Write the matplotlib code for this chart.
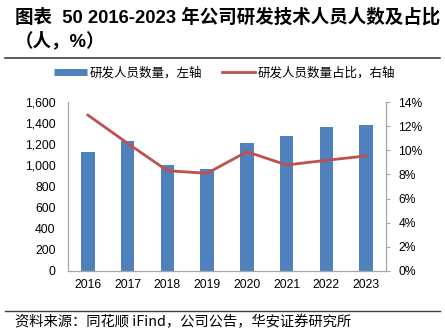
import matplotlib
matplotlib.use("Agg")
import matplotlib.pyplot as plt
from matplotlib.lines import Line2D
from matplotlib.ticker import FuncFormatter, MultipleLocator

plt.rcParams['font.family'] = ['Liberation Sans', 'Noto Sans CJK SC', 'DejaVu Sans']

years = ['2016', '2017', '2018', '2019', '2020', '2021', '2022', '2023']
staff = [1125, 1229, 1004, 966, 1210, 1283, 1368, 1381]
share = [12.94, 10.59, 8.31, 8.10, 9.89, 8.79, 9.18, 9.54]

title_l1 = '图表  50 2016-2023 年公司研发技术人员人数及占比'
title_l2 = '（人，%）'
legend_labels = ['研发人员数量，左轴', '研发人员数量占比，右轴']
source = '资料来源：同花顺 iFind，公司公告，华安证券研究所'

BLUE = '#4F81BD'
RED = '#C0504D'
GRAY = '#A6A6A6'
cjk = ['Noto Sans CJK SC', 'Liberation Sans', 'DejaVu Sans']
latin_first = ['Liberation Sans', 'Noto Sans CJK SC', 'DejaVu Sans']

W, H = 445, 333
fig = plt.figure(figsize=(W / 100, H / 100), dpi=100)

ax = fig.add_axes([68 / W, 1 - 270.7 / H, 318 / W, 168.4 / H])
x = list(range(len(years)))
ax.bar(x, staff, width=0.34, color=BLUE, zorder=2)
ax.set_xlim(-0.5, len(years) - 0.5)
ax.set_ylim(0, 1600)
ax.yaxis.set_major_locator(MultipleLocator(200))
ax.yaxis.set_major_formatter(FuncFormatter(lambda v, p: f'{int(v):,}'))
ax.set_xticks(x)
ax.set_xticklabels(years)
for s in ['top', 'right']:
    ax.spines[s].set_visible(False)
for s in ['left', 'bottom']:
    ax.spines[s].set_color(GRAY)
    ax.spines[s].set_linewidth(0.9)
ax.tick_params(axis='y', length=0, pad=9, labelsize=8.7)
ax.tick_params(axis='x', length=0, pad=6, labelsize=8.7)

ax2 = ax.twinx()
ax2.plot(x, share, color=RED, lw=2, zorder=3)
ax2.set_ylim(0, 14)
ax2.yaxis.set_major_locator(MultipleLocator(2))
ax2.yaxis.set_major_formatter(FuncFormatter(lambda v, p: f'{int(v)}%'))
for s in ['top', 'left', 'bottom']:
    ax2.spines[s].set_visible(False)
ax2.spines['right'].set_color(GRAY)
ax2.spines['right'].set_linewidth(0.9)
ax2.tick_params(axis='y', length=3, color=GRAY, pad=6, labelsize=8.7)

handles = [Line2D([], [], color=BLUE, lw=5, solid_capstyle='butt'),
           Line2D([], [], color=RED, lw=2)]
fig.legend(handles, legend_labels, loc='center', bbox_to_anchor=(0.505, 1 - 73 / H),
           ncol=2, frameon=False, handlelength=2.6, handletextpad=0.25,
           columnspacing=1.6, prop={'family': cjk, 'size': 9})

fig.text(15 / W, 1 - 17 / H, title_l1, ha='left', va='center', fontsize=13.3,
         fontweight='bold', family=latin_first)
fig.text(15 / W, 1 - 41 / H, title_l2, ha='left', va='center', fontsize=13.3,
         fontweight='bold', family=latin_first)
fig.add_artist(Line2D([5 / W, 440 / W], [1 - 58 / H, 1 - 58 / H], color='#404040', lw=1.2))
fig.add_artist(Line2D([5 / W, 440 / W], [1 - 311 / H, 1 - 311 / H], color='#404040', lw=1.0))
fig.text(15 / W, 1 - 322 / H, source, ha='left', va='center', fontsize=10.3, family=cjk)

fig.savefig('out.png', dpi=100)
